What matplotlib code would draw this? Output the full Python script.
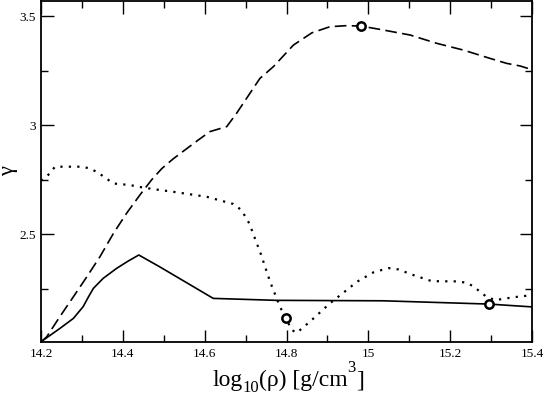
import matplotlib
matplotlib.use("Agg")
import matplotlib.pyplot as plt
from matplotlib.ticker import MultipleLocator

plt.rcParams['font.family'] = ['Liberation Serif', 'DejaVu Serif']

# solid curve
solid_x = [14.2, 14.206, 14.246, 14.279, 14.303, 14.316, 14.328, 14.352, 14.385, 14.412, 14.439,
           14.49, 14.621, 14.776, 15.036, 15.294, 15.4]
solid_y = [2.005, 2.014, 2.067, 2.113, 2.167, 2.212, 2.251, 2.297, 2.343, 2.375, 2.404,
           2.35, 2.205, 2.196, 2.194, 2.179, 2.166]

# dashed curve
dash_x = [14.2, 14.214, 14.246, 14.279, 14.312, 14.344, 14.377, 14.409, 14.442, 14.47, 14.495,
          14.523, 14.584, 14.613, 14.654, 14.678, 14.735,
          14.768, 14.817, 14.862, 14.906, 14.947, 14.982, 15.028, 15.102, 15.167, 15.232,
          15.297, 15.338, 15.371, 15.4]
dash_y = [2.005, 2.029, 2.121, 2.212, 2.304, 2.396, 2.503, 2.595, 2.68, 2.748, 2.80,
          2.845, 2.931, 2.97, 2.993, 3.054, 3.214,
          3.268, 3.367, 3.423, 3.451, 3.456, 3.454, 3.439, 3.413, 3.375, 3.344,
          3.306, 3.283, 3.271, 3.254]

# dotted curve
dot_x = [14.2, 14.206, 14.222, 14.234, 14.299, 14.32, 14.34, 14.377, 14.417, 14.438, 14.479,
         14.523, 14.605, 14.67, 14.69,
         14.709, 14.737, 14.76, 14.784, 14.813, 14.825, 14.857, 14.906, 14.939, 14.972,
         15.012, 15.049, 15.073, 15.11, 15.155, 15.216, 15.24, 15.256, 15.289, 15.31,
         15.354, 15.4]
dot_y = [2.745, 2.755, 2.778, 2.809, 2.809, 2.801, 2.781, 2.732, 2.725, 2.717, 2.705,
         2.694, 2.671, 2.638, 2.61,
         2.549, 2.41, 2.281, 2.167, 2.06, 2.047, 2.098, 2.182, 2.231, 2.281,
         2.324, 2.344, 2.338, 2.312, 2.284, 2.283, 2.277, 2.261, 2.212, 2.197,
         2.21, 2.22]

# open circle markers
mark_x = [14.799, 14.982, 15.294]
mark_y = [2.116, 3.454, 2.179]

xtick_vals = [14.2, 14.4, 14.6, 14.8, 15.0, 15.2, 15.4]
xtick_labels = ['14.2', '14.4', '14.6', '14.8', '15', '15.2', '15.4']
ytick_vals = [2.5, 3.0, 3.5]
ytick_labels = ['2.5', '3', '3.5']

W, H = 544, 396
fig = plt.figure(figsize=(W / 100, H / 100), dpi=100)
ax = fig.add_axes([41 / W, 54 / H, 491 / W, 341 / H])

ax.plot(solid_x, solid_y, color='black', lw=1.2, ls='-')
ax.plot(dash_x, dash_y, color='black', lw=1.2, ls=(0, (7, 3.2)))
ax.plot(dot_x, dot_y, color='black', lw=1.6, ls=(0, (1, 2.8)))
ax.plot(mark_x, mark_y, ls='none', marker='o', ms=6, mfc='white', mec='black', mew=1.8)

ax.set_xlim(14.2, 15.4)
ax.set_ylim(2.005, 3.569)
ax.xaxis.set_minor_locator(MultipleLocator(0.1))
ax.yaxis.set_minor_locator(MultipleLocator(0.25))
ax.set_xticks(xtick_vals)
ax.set_xticklabels(xtick_labels)
ax.set_yticks(ytick_vals)
ax.set_yticklabels(ytick_labels)
ax.tick_params(which='both', direction='in', top=True, right=True, labelsize=9.5, pad=4)
ax.tick_params(which='major', length=9, width=1)
ax.tick_params(which='minor', length=5, width=1)
for s in ax.spines.values():
    s.set_linewidth(1.3)

# x label assembled from pieces (subscript low, superscript high as in reference)
renderer = fig.canvas.get_renderer()
base = 1 - 386 / H
pieces = [('log', 17, 0), ('10', 12, -6), ('(ρ) [g/cm', 17, 0), ('3', 12, 14), (']', 17, 0)]
texts = []
x = 0.0
for s, size, dy in pieces:
    t = fig.text(x, base + dy / H, s, fontsize=size, va='baseline', ha='left')
    bb = t.get_window_extent(renderer)
    texts.append(t)
    x += bb.width / fig.bbox.width
shift = 288 / W - x / 2
for t in texts:
    px, py = t.get_position()
    t.set_position((px + shift, py))

fig.text(9 / W, 1 - 171 / H, 'γ', rotation=90, fontsize=16, ha='center', va='center')

fig.savefig('out.png', dpi=100)
